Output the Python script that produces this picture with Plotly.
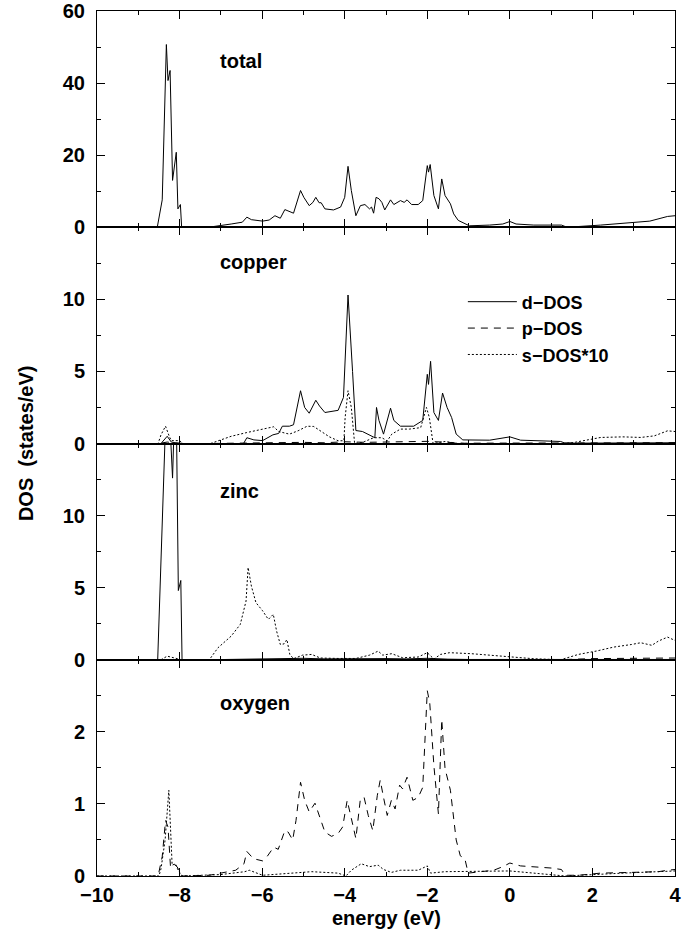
import plotly.graph_objects as go
from plotly.subplots import make_subplots

# ---------------- data (energy eV, DOS states/eV) ----------------
total_dos = [(-10, 0), (-8.54, 0), (-8.42, 7.6), (-8.32, 50.7), (-8.28, 40.7), (-8.23, 43.5),
             (-8.17, 13.0), (-8.08, 20.8), (-8.04, 5.1), (-7.98, 6.3), (-7.95, 0), (-7.3, 0),
             (-6.75, 0.9), (-6.48, 1.4), (-6.37, 2.8), (-6.26, 2.1), (-5.99, 1.7), (-5.83, 2.0),
             (-5.69, 3.2), (-5.56, 2.5), (-5.45, 4.9), (-5.34, 4.4), (-5.24, 3.9), (-5.07, 10.2),
             (-4.99, 8.3), (-4.86, 6.0), (-4.77, 6.9), (-4.70, 8.3), (-4.62, 6.8), (-4.57, 6.8),
             (-4.48, 5.1), (-4.27, 4.8), (-4.10, 5.6), (-4.00, 8.3), (-3.92, 16.9), (-3.84, 10.2),
             (-3.73, 3.2), (-3.62, 6.0), (-3.51, 6.3), (-3.40, 5.1), (-3.35, 5.6), (-3.30, 3.9),
             (-3.24, 8.3), (-3.17, 7.9), (-3.10, 6.9), (-3.03, 4.8), (-2.89, 7.6), (-2.81, 6.3),
             (-2.65, 7.4), (-2.56, 6.9), (-2.49, 7.6), (-2.38, 6.3), (-2.22, 6.3), (-2.11, 7.4),
             (-2.00, 17.1), (-1.97, 15.3), (-1.93, 17.4), (-1.84, 8.8), (-1.73, 5.1), (-1.65, 13.4),
             (-1.57, 8.8), (-1.44, 6.5), (-1.36, 3.7), (-1.25, 1.9), (-1.09, 1.1), (-0.98, 0.4),
             (-0.49, 0.6), (-0.17, 0.9), (0.00, 1.6), (0.15, 0.9), (0.58, 0.6), (1.01, 0.5),
             (1.25, 0.6), (1.34, 0.2), (1.66, 0.2), (2.20, 0.6), (2.95, 1.3), (3.39, 1.7),
             (3.82, 3.0), (4.00, 3.2)]

cu_d = [(-10, 0), (-8.45, 0), (-8.30, 0.5), (-8.20, 0.1), (-8.10, 0.05), (-7.90, 0), (-6.45, 0),
        (-6.37, 0.4), (-6.20, 0.25), (-5.99, 0.2), (-5.74, 0.6), (-5.60, 0.7), (-5.51, 1.2),
        (-5.34, 1.2), (-5.24, 1.3), (-5.07, 3.66), (-4.97, 2.5), (-4.86, 2.1), (-4.70, 3.0),
        (-4.61, 2.6), (-4.48, 2.15), (-4.16, 2.3), (-4.03, 3.2), (-3.92, 10.3), (-3.81, 5.0),
        (-3.73, 0.9), (-3.57, 0.83), (-3.35, 0.5), (-3.27, 0.4), (-3.23, 2.5), (-3.17, 1.6),
        (-3.06, 0.65), (-2.89, 2.45), (-2.81, 1.6), (-2.65, 1.2), (-2.33, 1.2), (-2.11, 1.6),
        (-2.00, 4.8), (-1.97, 4.1), (-1.92, 5.7), (-1.84, 2.15), (-1.73, 1.6), (-1.63, 3.5),
        (-1.52, 2.5), (-1.41, 1.8), (-1.30, 0.65), (-1.14, 0.25), (-0.49, 0.23), (0.00, 0.46),
        (0.26, 0.23), (1.23, 0.14), (1.34, 0.02), (4.00, 0.05)]

cu_p = [(-10, 0), (-8.50, 0), (-8.30, 0.1), (-8.00, 0), (-7.30, 0), (-6.50, 0.03), (-5.50, 0.06),
        (-5.00, 0.08), (-4.50, 0.05), (-4.00, 0.12), (-3.50, 0.08), (-3.00, 0.10), (-2.50, 0.12),
        (-2.00, 0.15), (-1.50, 0.08), (-1.10, 0.02), (0.00, 0.03), (1.30, 0.02), (2.50, 0.04),
        (4.00, 0.06)]

cu_s10 = [(-10, 0), (-8.52, 0), (-8.45, 0.6), (-8.34, 1.2), (-8.25, 0.5), (-8.20, 0.2), (-8.00, 0.2),
          (-7.92, 0), (-7.25, 0), (-6.75, 0.5), (-6.37, 0.76), (-5.99, 1.0), (-5.72, 1.16),
          (-5.60, 0.83), (-5.34, 0.65), (-5.13, 0.88), (-4.91, 1.2), (-4.75, 1.18), (-4.59, 0.88),
          (-4.37, 0.46), (-4.16, 0.19), (-4.02, 0.19), (-3.99, 1.8), (-3.92, 3.66), (-3.84, 2.5),
          (-3.76, 0), (-3.57, 0.07), (-3.30, 0.4), (-3.10, 0.4), (-2.97, 0.18), (-2.86, 0.65),
          (-2.65, 1.0), (-2.43, 1.0), (-2.16, 1.1), (-2.02, 2.5), (-1.95, 1.8), (-1.86, 0),
          (-1.57, 0.14), (-1.25, 0), (1.30, 0), (1.55, 0.07), (2.20, 0.42), (2.74, 0.46),
          (3.17, 0.42), (3.50, 0.53), (3.82, 0.88), (4.00, 0.83)]

zn_d = [(-10, 0), (-8.53, 0), (-8.35, 15.5), (-8.30, 24), (-8.25, 20), (-8.21, 15), (-8.17, 12.6),
        (-8.14, 15.5), (-8.10, 19), (-8.07, 15), (-8.03, 4.8), (-7.97, 5.5), (-7.94, 0), (-7.30, 0),
        (-6.50, 0.03), (-6.00, 0.10), (-5.50, 0.08), (-5.00, 0.10), (-4.50, 0.06), (-4.00, 0.08),
        (-3.50, 0.10), (-3.00, 0.08), (-2.50, 0.06), (-2.00, 0.10), (-1.50, 0.04), (-1.00, 0.02),
        (4.00, 0.02)]

zn_p = [(-10, 0), (-8.50, 0), (-8.30, 0.05), (-8.00, 0), (-6.50, 0.02), (-4.00, 0.04), (-2.00, 0.05),
        (0.00, 0.02), (1.30, 0.01), (2.00, 0.08), (3.00, 0.10), (4.00, 0.12)]

zn_s10 = [(-10, 0), (-8.45, 0), (-8.30, 0.25), (-8.10, 0.1), (-7.95, 0), (-7.28, 0), (-7.07, 0.83),
          (-6.75, 1.64), (-6.53, 2.45), (-6.39, 4.07), (-6.34, 6.4), (-6.26, 5.1), (-6.15, 3.96),
          (-5.99, 3.4), (-5.85, 2.8), (-5.73, 3.15), (-5.65, 1.99), (-5.56, 1.06), (-5.47, 1.1),
          (-5.40, 1.4), (-5.33, 0.37), (-5.24, 0.07), (-5.02, 0.32), (-4.80, 0.37), (-4.59, 0.12),
          (-4.16, 0.09), (-3.73, 0.09), (-3.40, 0.32), (-3.19, 0.6), (-3.08, 0.32), (-2.86, 0.42),
          (-2.60, 0.14), (-2.22, 0.19), (-2.00, 0.49), (-1.84, 0.05), (-1.68, 0.37), (-1.46, 0.49),
          (-0.93, 0.42), (-0.49, 0.32), (-0.06, 0.23), (0.58, 0.07), (1.23, 0), (1.66, 0.37),
          (2.09, 0.6), (2.52, 0.88), (2.95, 1.06), (3.17, 1.18), (3.44, 1.0), (3.60, 1.3),
          (3.82, 1.57), (4.00, 1.34)]

o_p = [(-10, 0), (-8.52, 0), (-8.42, 0.27), (-8.34, 0.77), (-8.28, 0.68), (-8.22, 0.13), (-8.15, 0.17),
       (-8.06, 0.13), (-7.98, 0.04), (-7.93, 0), (-7.28, 0.01), (-6.96, 0.04), (-6.64, 0.08),
       (-6.44, 0.17), (-6.37, 0.34), (-6.21, 0.24), (-5.99, 0.21), (-5.88, 0.27), (-5.72, 0.40),
       (-5.61, 0.37), (-5.45, 0.63), (-5.37, 0.61), (-5.26, 0.50), (-5.18, 0.77), (-5.07, 1.30),
       (-4.97, 1.05), (-4.86, 0.89), (-4.72, 1.01), (-4.61, 0.82), (-4.48, 0.61), (-4.32, 0.55),
       (-4.16, 0.59), (-4.05, 0.68), (-3.94, 1.05), (-3.84, 0.80), (-3.73, 0.52), (-3.62, 1.07),
       (-3.53, 1.09), (-3.43, 0.84), (-3.32, 0.63), (-3.21, 1.12), (-3.14, 1.33), (-3.06, 1.09),
       (-2.97, 0.84), (-2.87, 1.05), (-2.78, 0.93), (-2.67, 1.26), (-2.60, 1.21), (-2.49, 1.37),
       (-2.35, 1.05), (-2.22, 1.09), (-2.11, 1.23), (-2.00, 2.57), (-1.94, 2.40), (-1.84, 1.53),
       (-1.73, 0.86), (-1.65, 2.17), (-1.57, 1.49), (-1.44, 1.19), (-1.30, 0.50), (-1.20, 0.28),
       (-1.09, 0.24), (-1.01, 0.04), (-0.71, 0.06), (-0.39, 0.08), (-0.17, 0.13), (0.00, 0.18),
       (0.26, 0.14), (0.58, 0.13), (1.01, 0.11), (1.25, 0.09), (1.34, 0.01), (1.66, 0.01),
       (2.20, 0.04), (2.95, 0.05), (3.60, 0.06), (3.82, 0.08), (4.00, 0.09)]

o_s10 = [(-10, 0), (-8.50, 0), (-8.45, 0.1), (-8.35, 0.5), (-8.26, 1.19), (-8.22, 0.6), (-8.18, 0.15),
         (-8.10, 0.17), (-8.05, 0.1), (-7.95, 0), (-7.00, 0.02), (-6.42, 0.06), (-6.31, 0.08),
         (-5.99, 0.01), (-5.34, 0.04), (-4.80, 0.06), (-4.16, 0.04), (-3.97, 0), (-3.84, 0.08),
         (-3.60, 0.17), (-3.40, 0.13), (-3.19, 0.15), (-3.06, 0.09), (-2.87, 0.05), (-2.65, 0.08),
         (-2.22, 0.08), (-2.00, 0.14), (-1.92, 0.04), (-1.57, 0.06), (-1.03, 0.06), (0.00, 0.07),
         (0.58, 0.04), (1.34, 0), (2.74, 0.04), (4.00, 0.07)]

panel_names = ["total", "copper", "zinc", "oxygen"]
panel_label_y = [46, 12.6, 11.7, 2.4]
y_ranges = [[0, 60], [0, 15], [0, 15], [0, 3]]
y_major = [[0, 20, 40, 60], [0, 5, 10], [0, 5, 10], [0, 1, 2]]
y_minor = [[10, 30, 50], [2.5, 7.5, 12.5], [2.5, 7.5, 12.5], [0.5, 1.5, 2.5]]
legend_names = ["d\u2212DOS", "p\u2212DOS", "s\u2212DOS*10"]

FONT = "Liberation Sans, Arial, Helvetica, sans-serif"
FS = 20

fig = make_subplots(rows=4, cols=1, shared_xaxes=True, vertical_spacing=0)

def add(series, row, kind, show=False):
    xs = [p[0] for p in series]
    ys = [p[1] for p in series]
    dash = {"d": "solid", "p": "7px,6px", "s": "2px,2px", "t": "solid"}[kind]
    name = {"d": legend_names[0], "p": legend_names[1], "s": legend_names[2], "t": "total"}[kind]
    fig.add_trace(go.Scatter(x=xs, y=ys, mode="lines", name=name, showlegend=show,
                             line=dict(color="black", width=1, dash=dash)), row=row, col=1)

add(total_dos, 1, "t")
add(cu_d, 2, "d", True)
add(cu_p, 2, "p", True)
add(cu_s10, 2, "s", True)
add(zn_d, 3, "d")
add(zn_p, 3, "p")
add(zn_s10, 3, "s")
add(o_p, 4, "p")
add(o_s10, 4, "s")

for i in range(4):
    r = i + 1
    fig.update_yaxes(row=r, col=1, range=y_ranges[i], tickmode="array", tickvals=y_major[i],
                     ticks="inside", ticklen=8, tickwidth=1, tickcolor="black",
                     showline=True, linecolor="black", linewidth=1, mirror="ticks",
                     showgrid=False, zeroline=False, ticklabelstandoff=7,
                     ticklabeloverflow="allow", automargin=False,
                     minor=dict(tickmode="array", tickvals=y_minor[i], ticks="inside",
                                ticklen=4, tickcolor="black", showgrid=False),
                     tickfont=dict(family=FONT, size=FS, color="black", weight="bold"))
    fig.update_xaxes(row=r, col=1, range=[-10, 4], tickmode="linear", tick0=-10, dtick=2,
                     ticks="inside", ticklen=8, tickwidth=1, tickcolor="black",
                     showline=True, linecolor="black", linewidth=1, mirror="ticks",
                     showgrid=False, zeroline=False, showticklabels=(r == 4),
                     ticklabelstandoff=1, ticklabeloverflow="allow", automargin=False,
                     minor=dict(dtick=1, tick0=-10, ticks="inside", ticklen=4,
                                tickcolor="black", showgrid=False),
                     tickfont=dict(family=FONT, size=FS, color="black", weight="bold"))
    fig.add_annotation(x=-7, y=panel_label_y[i], xref=f"x{'' if r == 1 else r}",
                       yref=f"y{'' if r == 1 else r}", text=panel_names[i], showarrow=False,
                       xanchor="left", yanchor="middle", xshift=-3,
                       font=dict(family=FONT, size=FS, color="black", weight="bold"))

fig.add_annotation(x=-0.1235, y=0.5, xref="paper", yref="paper", text="DOS\u00a0 (states/eV)",
                   textangle=-90, showarrow=False, xanchor="center", yanchor="middle",
                   font=dict(family=FONT, size=FS, color="black", weight="bold"))
fig.add_annotation(x=0.5, y=-0.0486, xref="paper", yref="paper", text="energy (eV)",
                   showarrow=False, xanchor="center", yanchor="middle",
                   font=dict(family=FONT, size=FS, color="black", weight="bold"))

fig.update_layout(
    width=697, height=936, paper_bgcolor="white", plot_bgcolor="white",
    margin=dict(l=97, r=22, t=11, b=60, autoexpand=False),
    font=dict(family=FONT, color="black"),
    legend=dict(x=0.633, y=0.685, xanchor="left", yanchor="top", bgcolor="rgba(0,0,0,0)",
                itemwidth=49, font=dict(family=FONT, size=18, color="black", weight="bold"),
                tracegroupgap=0),
)

# remove the default 8px page margin so the figure sits at the window origin
fig.write_html("out.html", config={"displayModeBar": False},
               post_script="document.body.style.margin='0';")
